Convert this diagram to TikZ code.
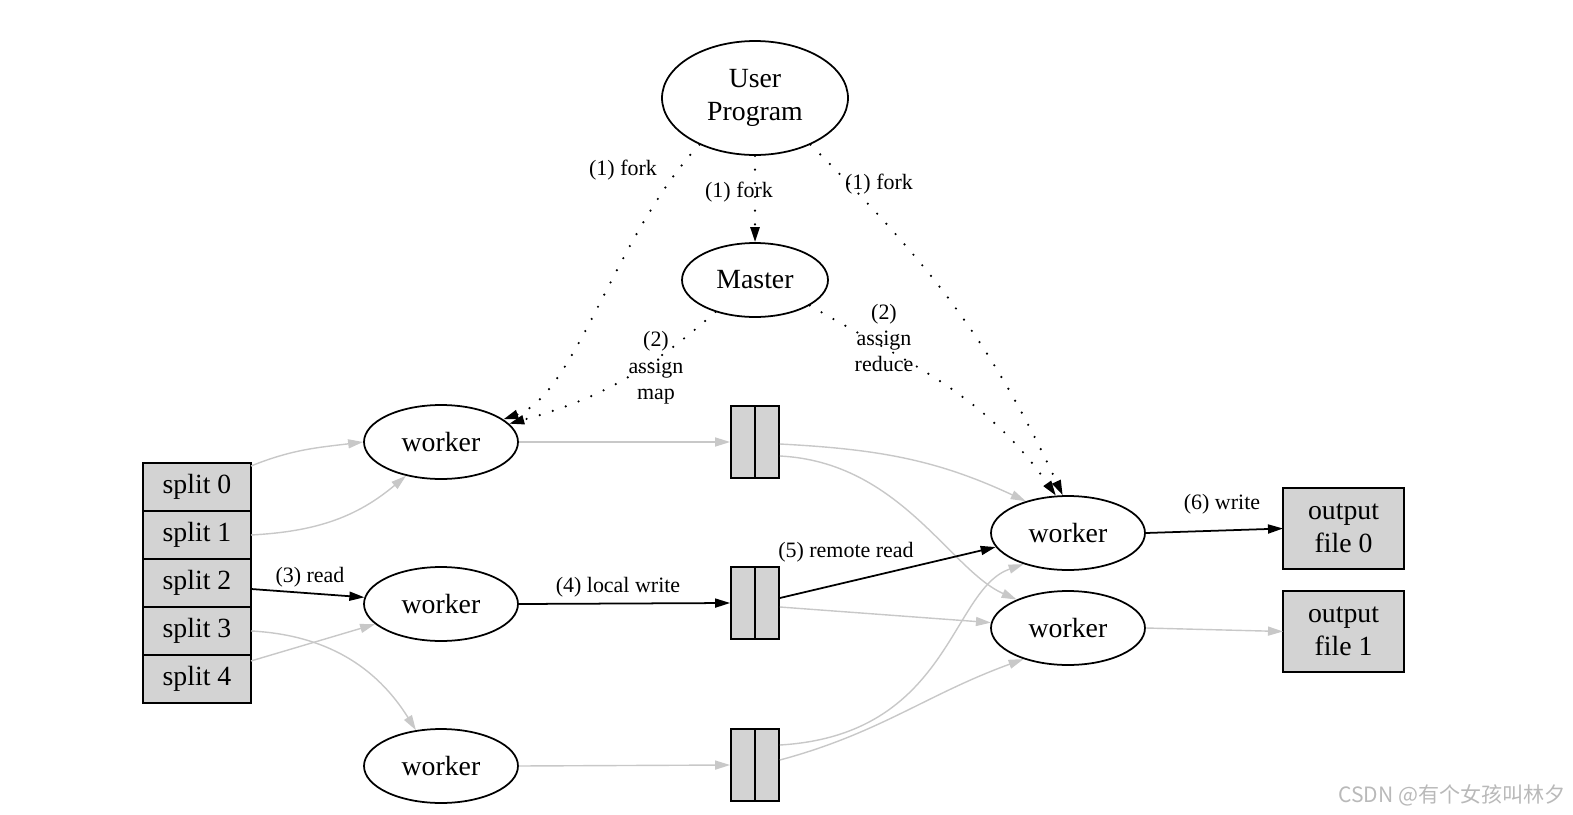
\documentclass[tikz,border=0pt]{standalone}
\usepackage{fontspec}
\setmainfont{Liberation Serif}
\newfontfamily\cjkfont{Noto Sans CJK SC}
\usetikzlibrary{arrows.meta,shapes.geometric,positioning,calc}

\definecolor{boxgray}{RGB}{211,211,211}
\definecolor{edgegray}{RGB}{200,200,200}

\tikzset{
    proc/.style={ellipse, draw, line width=1pt, inner sep=0pt, align=center,
        font=\fontsize{15.8}{18.5}\selectfont},
    gbox/.style={rectangle, draw, line width=1pt, fill=boxgray, inner sep=0pt,
        outer sep=0pt, align=center, font=\fontsize{15.8}{18.5}\selectfont},
    buf/.style={rectangle, draw, line width=1pt, fill=boxgray, inner sep=0pt,
        minimum width=0.96cm, minimum height=1.44cm},
    lbl/.style={inner sep=1pt, align=center, font=\fontsize{12.5}{15}\selectfont},
    flow/.style={-{Triangle[length=0.3cm,width=0.18cm]}, line width=1pt},
    faint/.style={flow, draw=edgegray, line width=0.8pt},
    ctrl/.style={flow, dash pattern=on 0pt off 7.8pt, line cap=round, line width=1.4pt},
}

\begin{document}
\begin{tikzpicture}[x=0.02cm, y=-0.02cm]
    \useasboundingbox (0,0) rectangle (1573,815);

    \node[proc, minimum width=3.72cm, minimum height=2.28cm] (user) at (755,98) {User\\Program};
    \node[proc, minimum width=2.92cm, minimum height=1.48cm] (master) at (755,280) {Master};

    \node[proc, minimum width=3.08cm, minimum height=1.48cm] (w1) at (441,442) {worker};
    \node[proc, minimum width=3.08cm, minimum height=1.48cm] (w2) at (441,604) {worker};
    \node[proc, minimum width=3.08cm, minimum height=1.48cm] (w3) at (441,766) {worker};
    \node[proc, minimum width=3.08cm, minimum height=1.48cm] (redA) at (1068,533) {worker};
    \node[proc, minimum width=3.08cm, minimum height=1.48cm] (redB) at (1068,628) {worker};

    % input splits
    \node[gbox, minimum width=2.16cm, minimum height=0.96cm] (split0) at (197,487) {split 0};
    \node[gbox, minimum width=2.16cm, minimum height=0.96cm, below=0pt of split0] (split1) {split 1};
    \node[gbox, minimum width=2.16cm, minimum height=0.96cm, below=0pt of split1] (split2) {split 2};
    \node[gbox, minimum width=2.16cm, minimum height=0.96cm, below=0pt of split2] (split3) {split 3};
    \node[gbox, minimum width=2.16cm, minimum height=0.96cm, below=0pt of split3] (split4) {split 4};

    % intermediate files
    \node[buf] (buf1) at (755,442) {};
    \node[buf] (buf2) at (755,603) {};
    \node[buf] (buf3) at (755,765) {};
    \draw[line width=1pt] (buf1.north) -- (buf1.south);
    \draw[line width=1pt] (buf2.north) -- (buf2.south);
    \draw[line width=1pt] (buf3.north) -- (buf3.south);

    \node[gbox, minimum width=2.42cm, minimum height=1.62cm] (out0) at (1343.5,528.5) {output\\file 0};
    \node[gbox, minimum width=2.42cm, minimum height=1.62cm] (out1) at (1343.5,631.5) {output\\file 1};

    % fork and assign
    \draw[ctrl] (user.south) -- (master.north);
    \draw[ctrl] (user.220) .. controls (615,235) and (575,395) .. (w1.20);
    \draw[ctrl] (user.-40) to[out=-45,in=115] (redA.98);
    \draw[ctrl] (master.219) to[bend left=13] (w1.15);
    \draw[ctrl] (master.-25) to[out=-30,in=125] (redA.108);

    % map side
    \draw[faint] ($(split0.east)+(0,-21)$) to[out=22,in=187] (w1.west);
    \draw[faint] (split1.east) to[out=3,in=220] (w1.224);
    \draw[flow] ($(split2.east)+(0,6)$) -- (w2.175);
    \draw[faint] (split3.east) to[out=-3,in=122] (w3.125);
    \draw[faint] ($(split4.east)+(0,-18)$) -- (w2.197);

    \draw[faint] (w1.east) -- (buf1.west);
    \draw[flow] (w2.east) -- (buf2.west);
    \draw[faint] (w3.east) -- (buf3.west);

    % reduce side
    \draw[faint] ($(buf1.east)+(0,2)$) to[out=-3,in=155] (redA.143);
    \draw[faint] ($(buf1.east)+(0,14)$) .. controls (900,462) and (950,570) .. (redB.151);
    \draw[flow] ($(buf2.east)+(0,-5)$) -- (redA.191);
    \draw[faint] ($(buf2.east)+(0,4)$) -- (redB.176);
    \draw[faint] ($(buf3.east)+(0,-20)$) .. controls (950,735) and (950,590) .. (redA.215);
    \draw[faint] ($(buf3.east)+(0,-5)$) to[out=15,in=200] (redB.215);

    \draw[flow] (redA.east) -- (out0.west);
    \draw[faint] (redB.east) -- (out1.west);

    \node[lbl] (fork1) at (623,170) {(1) fork};
    \node[lbl] (fork2) at (739,192) {(1) fork};
    \node[lbl] (fork3) at (879,184) {(1) fork};
    \node[lbl] (amap) at (656,368) {(2)\\assign\\map};
    \node[lbl] (ared) at (884,338) {(2)\\assign\\reduce};
    \node[lbl] (lread) at (310,577) {(3) read};
    \node[lbl] (lwrite) at (618,587) {(4) local write};
    \node[lbl] (rread) at (846,552) {(5) remote read};
    \node[lbl] (owrite) at (1222,504) {(6) write};

    \node[text=gray!55, font=\cjkfont\fontsize{12}{14}\selectfont] (mark) at (1452,795) {CSDN @有个女孩叫林夕};
\end{tikzpicture}
\end{document}
